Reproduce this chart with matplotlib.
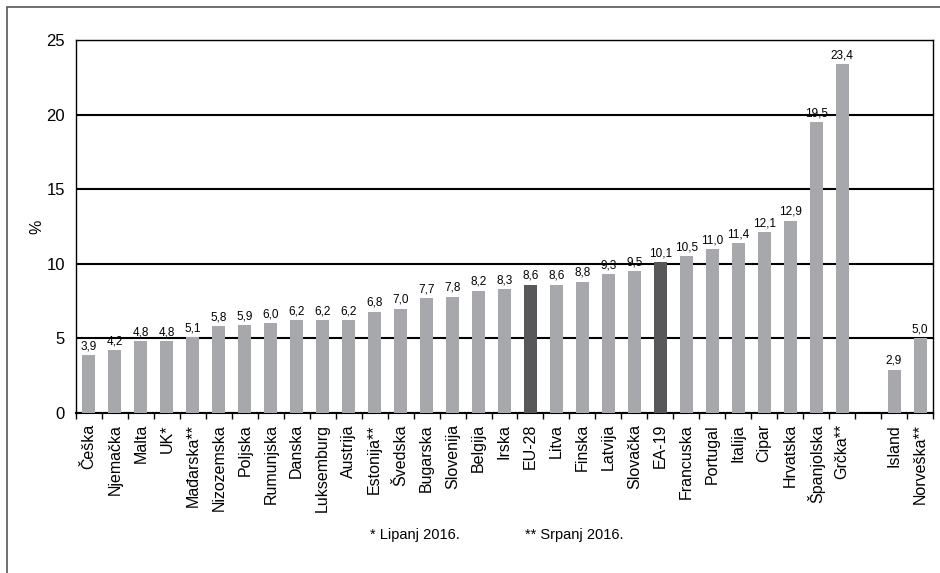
import numpy as np
import matplotlib
matplotlib.use("Agg")
import matplotlib.pyplot as plt
from matplotlib.patches import Rectangle

plt.rcParams['font.family'] = ['Liberation Sans', 'DejaVu Sans']

countries = ["Češka", "Njemačka", "Malta", "UK*", "Mađarska**", "Nizozemska",
             "Poljska", "Rumunjska", "Danska", "Luksemburg", "Austrija",
             "Estonija**", "Švedska", "Bugarska", "Slovenija", "Belgija", "Irska",
             "EU-28", "Litva", "Finska", "Latvija", "Slovačka", "EA-19",
             "Francuska", "Portugal", "Italija", "Cipar", "Hrvatska",
             "Španjolska", "Grčka**"]
values = [3.9, 4.2, 4.8, 4.8, 5.1, 5.8, 5.9, 6.0, 6.2, 6.2, 6.2, 6.8, 7.0,
          7.7, 7.8, 8.2, 8.3, 8.6, 8.6, 8.8, 9.3, 9.5, 10.1, 10.5, 11.0,
          11.4, 12.1, 12.9, 19.5, 23.4]
others = ["Island", "Norveška**"]
other_values = [2.9, 5.0]
aggregates = ["EU-28", "EA-19"]
footnotes = ["* Lipanj 2016.", "** Srpanj 2016."]

light = "#a7a8ab"
dark = "#58585a"

labels = countries + [""] + others
vals = values + [np.nan] + other_values
x = np.arange(len(labels))
colors = [dark if c in aggregates else light for c in labels]

fig = plt.figure(figsize=(9.4, 5.73), dpi=100)
ax = fig.add_axes([76/940, 1-413/573, (933-76)/940, (413-40)/573])

ax.bar(x, np.nan_to_num(vals), width=0.5, color=colors, zorder=3)
for xi, v in zip(x, vals):
    if np.isnan(v):
        continue
    ax.annotate(f"{v:.1f}".replace(".", ","), (xi, v), xytext=(0, 2),
                textcoords="offset points", ha="center", va="bottom",
                fontsize=8.5, zorder=4)

ax.set_xlim(-0.5, len(labels) - 0.5)
ax.set_ylim(0, 25)
ax.set_yticks([0, 5, 10, 15, 20, 25])
ax.tick_params(axis="y", length=0, labelsize=12, pad=8)
ax.yaxis.grid(True, color="black", linewidth=1.5, zorder=1)

ax.set_xticks(x)
ax.set_xticklabels(labels, rotation=90, fontsize=11.5)
ax.tick_params(axis="x", which="major", length=0, pad=8)
ax.set_xticks(np.arange(-0.5, len(labels)), minor=True)
ax.tick_params(axis="x", which="minor", length=4, width=1, direction="out")

for s in ax.spines.values():
    s.set_color("black")
    s.set_linewidth(1)
ax.spines["bottom"].set_linewidth(1.5)

ax.set_ylabel("%", fontsize=11.5, labelpad=1)

fig.text(370/940, 1-535/573, footnotes[0], fontsize=10.5, va="center")
fig.text(525/940, 1-535/573, footnotes[1], fontsize=10.5, va="center")

fig.patches.append(Rectangle((7/940, -0.1), 1.2, 1.1 - 7/573,
                             transform=fig.transFigure, fill=False,
                             edgecolor="#555555", linewidth=1.2))

fig.savefig("out.png", dpi=100)
